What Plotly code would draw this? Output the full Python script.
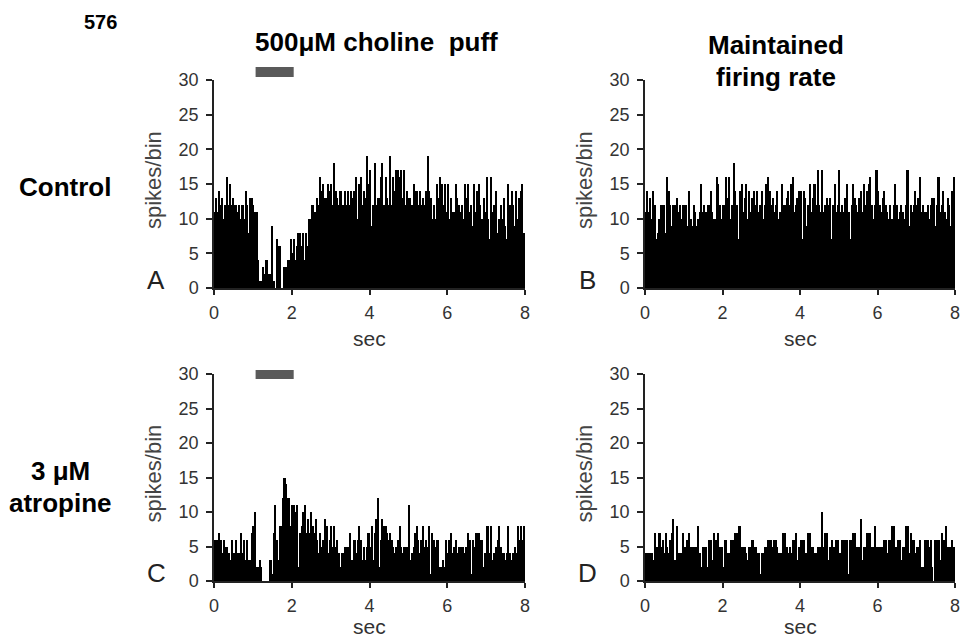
import plotly.graph_objects as go

# Peri-stimulus histograms, 200 bins of 40 ms over 8 s (spikes/bin)
BIN = 0.04
N_BINS = 200
PUFF = [1.07, 2.05]  # choline puff, sec

control_puff = [
    11, 13, 11, 14, 12, 13, 10, 12, 16, 12,
    15, 12, 13, 12, 12, 11, 12, 10, 12, 10,
    14, 12, 8, 13, 13, 12, 11, 11, 4, 1,
    1, 3, 2, 4, 4, 2, 2, 9, 1, 0,
    7, 6, 6, 0, 0, 3, 3, 4, 4, 7,
    5, 7, 4, 6, 8, 8, 6, 8, 4, 8,
    6, 10, 10, 12, 11, 11, 13, 12, 16, 14,
    15, 13, 13, 15, 14, 15, 12, 18, 14, 13,
    12, 14, 12, 12, 14, 12, 14, 12, 14, 13,
    14, 16, 10, 15, 16, 12, 14, 13, 19, 15,
    17, 9, 12, 18, 12, 13, 13, 16, 18, 12,
    16, 13, 12, 19, 12, 16, 14, 17, 17, 16,
    17, 13, 17, 12, 14, 13, 13, 12, 15, 14,
    14, 12, 14, 12, 13, 12, 14, 19, 14, 13,
    10, 12, 10, 15, 13, 16, 15, 12, 15, 11,
    15, 10, 13, 11, 11, 15, 13, 12, 11, 12,
    10, 15, 13, 15, 11, 12, 9, 15, 11, 14,
    15, 12, 10, 13, 11, 16, 10, 7, 16, 11,
    12, 14, 8, 10, 12, 10, 13, 9, 7, 15,
    12, 14, 12, 9, 14, 10, 13, 14, 15, 8,
]

control_maintained = [
    11, 14, 11, 13, 10, 14, 12, 7, 8, 10,
    12, 12, 12, 8, 16, 14, 12, 9, 12, 12,
    13, 11, 12, 10, 12, 12, 12, 9, 14, 10,
    9, 12, 11, 9, 10, 11, 15, 11, 12, 11,
    12, 12, 14, 11, 10, 10, 16, 15, 12, 10,
    12, 12, 16, 13, 16, 10, 12, 18, 14, 12,
    7, 14, 15, 11, 13, 15, 10, 14, 11, 13,
    14, 12, 14, 11, 12, 14, 10, 12, 15, 16,
    14, 12, 13, 11, 12, 14, 10, 11, 15, 12,
    12, 13, 14, 12, 15, 16, 11, 12, 13, 14,
    14, 7, 14, 13, 9, 12, 15, 11, 13, 15,
    12, 17, 12, 11, 17, 11, 12, 13, 12, 13,
    7, 12, 15, 11, 12, 17, 11, 12, 11, 13,
    15, 11, 7, 12, 15, 13, 12, 11, 13, 14,
    11, 15, 12, 14, 15, 16, 12, 10, 12, 17,
    14, 12, 11, 13, 14, 12, 11, 10, 12, 10,
    12, 15, 12, 10, 11, 12, 11, 10, 12, 17,
    9, 12, 11, 12, 14, 12, 13, 16, 11, 12,
    11, 11, 12, 10, 12, 13, 13, 9, 12, 16,
    11, 12, 14, 11, 10, 13, 12, 9, 14, 16,
]

atropine_puff = [
    6, 6, 6, 7, 6, 4, 6, 5, 5, 4,
    3, 6, 4, 4, 6, 4, 4, 7, 4, 6,
    3, 6, 3, 3, 7, 8, 10, 2, 2, 3,
    2, 0, 0, 0, 0, 0, 3, 1, 7, 11,
    6, 3, 8, 8, 12, 15, 14, 12, 12, 8,
    11, 11, 10, 11, 2, 7, 8, 10, 11, 7,
    9, 7, 10, 8, 7, 9, 6, 4, 7, 5,
    6, 9, 8, 4, 6, 8, 5, 8, 5, 6,
    4, 2, 4, 4, 5, 5, 5, 7, 3, 3,
    6, 4, 6, 8, 6, 3, 5, 3, 5, 7,
    5, 8, 3, 7, 9, 12, 2, 6, 9, 8,
    8, 7, 6, 7, 6, 5, 4, 5, 6, 8,
    5, 4, 5, 5, 5, 11, 3, 4, 5, 7,
    8, 6, 4, 6, 8, 5, 6, 5, 8, 1,
    7, 6, 5, 6, 6, 2, 2, 3, 2, 6,
    4, 6, 7, 4, 5, 6, 4, 5, 5, 5,
    5, 4, 5, 7, 6, 1, 6, 5, 7, 7,
    7, 6, 6, 2, 4, 8, 8, 4, 8, 3,
    4, 5, 6, 8, 5, 4, 4, 3, 4, 8,
    4, 3, 4, 5, 4, 8, 6, 8, 6, 8,
]

atropine_maintained = [
    4, 4, 4, 4, 4, 3, 7, 5, 5, 7,
    5, 6, 4, 7, 5, 4, 6, 7, 9, 3,
    8, 4, 4, 4, 7, 5, 5, 6, 7, 5,
    5, 5, 5, 5, 8, 4, 2, 5, 5, 5,
    2, 6, 6, 3, 7, 6, 6, 7, 5, 5,
    2, 6, 6, 4, 4, 6, 6, 6, 7, 7,
    8, 8, 5, 5, 5, 4, 3, 5, 5, 6,
    5, 5, 4, 4, 1, 4, 4, 5, 5, 6,
    6, 6, 5, 6, 6, 5, 4, 4, 4, 7,
    7, 5, 4, 5, 4, 6, 6, 7, 3, 5,
    6, 6, 6, 4, 4, 7, 7, 5, 5, 4,
    4, 5, 5, 5, 10, 5, 7, 7, 3, 5,
    6, 5, 5, 6, 6, 4, 4, 6, 6, 6,
    6, 1, 6, 6, 7, 7, 5, 5, 5, 9,
    3, 5, 5, 7, 7, 7, 5, 5, 8, 5,
    5, 5, 5, 5, 6, 6, 4, 6, 6, 8,
    8, 5, 5, 6, 6, 3, 5, 5, 8, 8,
    4, 7, 6, 6, 4, 5, 5, 6, 2, 2,
    6, 6, 6, 5, 6, 2, 0, 6, 6, 6,
    3, 7, 6, 6, 8, 5, 5, 5, 6, 5,
]

x_ticks = [0, 2, 4, 6, 8]
y_ticks = [0, 5, 10, 15, 20, 25, 30]
panel_letters = ["A", "B", "C", "D"]

# the page body adds an 8px margin, so the figure is shrunk by that much
OFF = 8
W, H = 973 - OFF, 641 - OFF
FONT = "Arial, Liberation Sans, sans-serif"


def px(x):
    return (x - OFF) / W


def py(y):
    return 1 - (y - OFF) / H


t = [BIN * (i + 0.5) for i in range(N_BINS)]

# (values, x-domain px, y-domain px) in page pixels
panels = [
    (control_puff, (214, 525), (80, 288)),
    (control_maintained, (645, 955), (80, 288)),
    (atropine_puff, (214, 525), (374, 581)),
    (atropine_maintained, (645, 955), (374, 581)),
]

fig = go.Figure()
layout_axes = {}
annotations = []

for i, (vals, (x0, x1), (y0, y1)) in enumerate(panels):
    n = "" if i == 0 else str(i + 1)
    fig.add_trace(go.Bar(
        x=t, y=vals, width=BIN,
        marker=dict(color="black", line=dict(width=0)),
        xaxis="x" + n, yaxis="y" + n, showlegend=False,
    ))
    layout_axes["xaxis" + n] = dict(
        domain=[px(x0), px(x1)], anchor="y" + n, range=[0, 8],
        tickvals=x_ticks, ticks="outside", ticklen=5, tickwidth=1.5,
        tickcolor="#222", showline=True, linecolor="#222", linewidth=1.5,
        showgrid=False, zeroline=False, automargin=False, ticklabelstandoff=3,
        tickfont=dict(family=FONT, size=18, color="#333"),
    )
    layout_axes["yaxis" + n] = dict(
        domain=[py(y1), py(y0)], anchor="x" + n, range=[0, 30],
        tickvals=y_ticks, ticks="outside", ticklen=6, tickwidth=1.5,
        tickcolor="#222", showline=True, linecolor="#222", linewidth=1.5,
        showgrid=False, zeroline=False, automargin=False, ticklabelstandoff=4,
        tickfont=dict(family=FONT, size=18, color="#333"),
    )
    # axis titles and panel letter
    annotations.append(dict(text="spikes/bin", x=px(x0 - 61), y=py((y0 + y1) / 2 - 4),
                            textangle=-90, font=dict(family=FONT, size=22, color="#444")))
    annotations.append(dict(text="sec", x=px((x0 + x1) / 2), y=py(min(y1 + 50, 626)),
                            font=dict(family=FONT, size=21, color="#333")))
    annotations.append(dict(text=panel_letters[i], x=px(x0 - 58), y=py(y1 - 8),
                            font=dict(family=FONT, size=26, color="#222")))

shapes = []
for xref, (ytop, ybot) in [("x", (67, 77)), ("x3", (370, 379))]:
    shapes.append(dict(type="rect", xref=xref, yref="paper",
                       x0=PUFF[0], x1=PUFF[1], y0=py(ybot), y1=py(ytop),
                       fillcolor="#5a5a5a", line=dict(width=0)))

bold = dict(family=FONT, size=26, color="black")
annotations += [
    dict(text="<b>576</b>", x=px(100), y=py(22), font=dict(family=FONT, size=20, color="black")),
    dict(text="<b>500\u03bcM choline  puff</b>", x=px(253), y=py(42), xanchor="left", font=bold),
    dict(text="<b>Maintained</b>", x=px(776), y=py(45), font=bold),
    dict(text="<b>firing rate</b>", x=px(776), y=py(77), font=bold),
    dict(text="<b>Control</b>", x=px(65), y=py(187), font=bold),
    dict(text="<b>3 \u03bcM</b>", x=px(60), y=py(471), font=bold),
    dict(text="<b>atropine</b>", x=px(60), y=py(503), font=bold),
]
for a in annotations:
    a.setdefault("xref", "paper")
    a.setdefault("yref", "paper")
    a.setdefault("showarrow", False)
    a.setdefault("xanchor", "center")
    a.setdefault("yanchor", "middle")

fig.update_layout(
    width=W, height=H,
    margin=dict(l=0, r=0, t=0, b=0),
    paper_bgcolor="white", plot_bgcolor="white",
    bargap=0,
    annotations=annotations,
    shapes=shapes,
    font=dict(family=FONT),
    **layout_axes,
)

fig.write_html("out.html")
